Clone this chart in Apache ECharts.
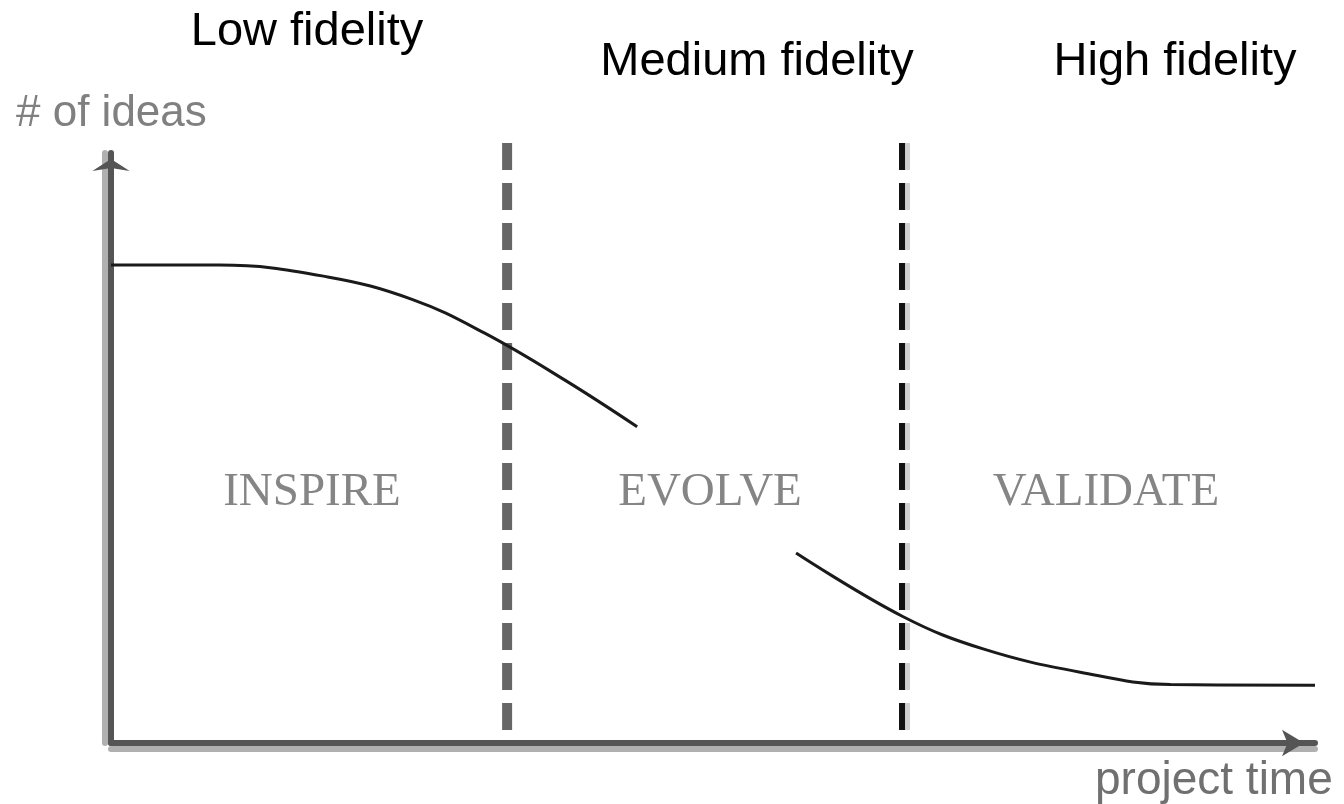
<!DOCTYPE html>
<html>
<head>
<meta charset="utf-8">
<title>Fidelity over project time</title>
<script src="https://cdn.jsdelivr.net/npm/echarts@6/dist/echarts.min.js"></script>
<style>
  html, body { margin: 0; padding: 0; background: #fff; }
  #chart { width: 1344px; height: 804px; }
</style>
</head>
<body>
<div id="chart"></div>
<script>
// project time 0..100, # of ideas 0..100
const earlyTime = [0, 9, 18, 25, 31, 37.7, 43.7];
const earlyIdeas = [81, 81, 79, 75.2, 69.5, 61.5, 53.6];
const lateTime = [56.9, 65.8, 72.5, 80.5, 88, 100];
const lateIdeas = [32.2, 21.4, 15.9, 12, 9.9, 9.8];
// phase boundaries
const dividerTime = [32.9, 65.7];
const dividerTop = 101.7;
const phaseNames = ["INSPIRE", "EVOLVE", "VALIDATE"];
const fidelityNames = ["Low fidelity", "Medium fidelity", "High fidelity"];

const chart = echarts.init(document.getElementById("chart"));

function pairs(xs, ys) {
  return xs.map((x, i) => [x, ys[i]]);
}

// top labels and phase labels are placed in pixels like the original drawing
const fidelityPos = [[307, 32], [757, 62], [1175, 62]];
const phasePos = [[312, 493], [710, 493], [1106, 493]];

const graphics = [];
fidelityNames.forEach((t, i) => {
  graphics.push({
    type: "text", x: fidelityPos[i][0], y: fidelityPos[i][1],
    style: { text: t, fill: "#000", font: "47px 'Liberation Sans', Arial, sans-serif",
      align: "center", verticalAlign: "middle" }
  });
});
phaseNames.forEach((t, i) => {
  graphics.push({
    type: "text", x: phasePos[i][0], y: phasePos[i][1],
    style: { text: t, fill: "#858585", font: "47px 'Liberation Serif', 'Times New Roman', serif",
      align: "center", verticalAlign: "middle" }
  });
});
graphics.push({
  type: "text", x: 16, y: 114,
  style: { text: "# of ideas", fill: "#808080", font: "44px 'Liberation Sans', Arial, sans-serif",
    align: "left", verticalAlign: "middle" }
});
graphics.push({
  type: "text", x: 1095, y: 781,
  style: { text: "project time", fill: "#707070", font: "46px 'Liberation Sans', Arial, sans-serif",
    align: "left", verticalAlign: "middle" }
});

const option = {
  animation: false,
  backgroundColor: "#fff",
  grid: { left: 111, right: 29, top: 153, bottom: 61 },
  xAxis: {
    type: "value", min: 0, max: 100,
    axisLine: {
      show: true, onZero: false,
      symbol: ["none", "arrow"], symbolSize: [20, 22], symbolOffset: [0, -11],
      lineStyle: { color: "#555", width: 6, shadowColor: "#b0b0b0", shadowOffsetY: 6, shadowBlur: 0 }
    },
    axisTick: { show: false }, axisLabel: { show: false }, splitLine: { show: false }
  },
  yAxis: {
    type: "value", min: 0, max: 100,
    axisLine: {
      show: true, onZero: false,
      symbol: ["none", "arrow"], symbolSize: [28, 12], symbolOffset: [0, -6],
      lineStyle: { color: "#555", width: 6, shadowColor: "#b0b0b0", shadowOffsetX: -6, shadowBlur: 0 }
    },
    axisTick: { show: false }, axisLabel: { show: false }, splitLine: { show: false }
  },
  graphic: graphics,
  series: [
    {
      type: "line", clip: false, symbol: "none", silent: true,
      data: [[dividerTime[0], dividerTop], [dividerTime[0], 0]],
      lineStyle: { color: "#666", width: 10, type: [27, 13] }
    },
    {
      type: "line", clip: false, symbol: "none", silent: true,
      data: [[dividerTime[1], dividerTop], [dividerTime[1], 0]],
      lineStyle: { color: "#111", width: 6, type: [27, 13],
        shadowColor: "#cfcfcf", shadowOffsetX: 5, shadowBlur: 0 }
    },
    {
      type: "line", symbol: "none", smooth: 0.4, clip: false,
      data: pairs(earlyTime, earlyIdeas),
      lineStyle: { color: "#1a1a1a", width: 3 }
    },
    {
      type: "line", symbol: "none", smooth: 0.4, clip: false,
      data: pairs(lateTime, lateIdeas),
      lineStyle: { color: "#1a1a1a", width: 3 }
    }
  ]
};
chart.setOption(option);
</script>
</body>
</html>
